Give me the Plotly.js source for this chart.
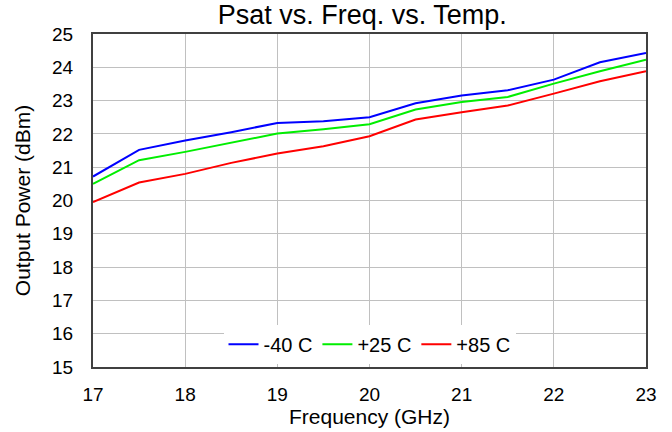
<!DOCTYPE html>
<html>
<head>
<meta charset="utf-8">
<script src="https://cdn.plot.ly/plotly-3.0.1.min.js"></script>
<style>html,body{margin:0;padding:0;background:#fff;}#chart{width:672px;height:432px;}</style>
</head>
<body>
<div id="chart"></div>
<script>
const freq = [17, 17.5, 18, 18.5, 19, 19.5, 20, 20.5, 21, 21.5, 22, 22.5, 23];
const m40 = [20.72, 21.52, 21.8, 22.05, 22.33, 22.38, 22.5, 22.92, 23.15, 23.31, 23.63, 24.15, 24.43];
const p25 = [20.5, 21.21, 21.46, 21.74, 22.01, 22.14, 22.29, 22.73, 22.96, 23.11, 23.51, 23.88, 24.23];
const p85 = [19.95, 20.54, 20.8, 21.13, 21.41, 21.63, 21.93, 22.43, 22.65, 22.85, 23.21, 23.58, 23.88];
const names = ["-40 C", "+25 C", "+85 C"];
const colors = ["#0000ff", "#00ee00", "#ff0000"];
const series = [m40, p25, p85];

const data = series.map((y, i) => ({
  x: freq, y: y, type: "scatter", mode: "lines", name: names[i],
  line: {color: colors[i], width: 2}
}));

const layout = {
  width: 672, height: 432,
  margin: {l: 93, r: 26, t: 34, b: 65},
  paper_bgcolor: "#fff", plot_bgcolor: "#fff",
  font: {family: "Liberation Sans, Arial, sans-serif", color: "#000", size: 19},
  title: {text: "Psat vs. Freq. vs. Temp.", font: {size: 27}, x: 0.539, xanchor: "center", y: 0.945, yanchor: "bottom"},
  xaxis: {
    range: [17, 23], dtick: 1, tick0: 17,
    showgrid: true, gridcolor: "#c0c0c0", gridwidth: 1,
    showline: true, linecolor: "#404040", linewidth: 2, mirror: true,
    ticks: "outside", ticklen: 9, tickcolor: "rgba(0,0,0,0)",
    zeroline: false,
    title: {text: "Frequency (GHz)", font: {size: 21}, standoff: 0}
  },
  yaxis: {
    range: [15, 25], dtick: 1, tick0: 15,
    showgrid: true, gridcolor: "#c0c0c0", gridwidth: 1,
    showline: true, linecolor: "#404040", linewidth: 2, mirror: true,
    ticks: "outside", ticklen: 14, tickcolor: "rgba(0,0,0,0)",
    zeroline: false,
    title: {text: "Output Power (dBm)", font: {size: 21}, standoff: 16}
  },
  legend: {
    orientation: "h", x: 0.5, xanchor: "center", y: 0.01, yanchor: "bottom",
    bgcolor: "#fff", font: {size: 20}, itemwidth: 30, tracegroupgap: 0
  },
  showlegend: true
};

Plotly.newPlot("chart", data, layout, {displayModeBar: false, staticPlot: true});
</script>
</body>
</html>
